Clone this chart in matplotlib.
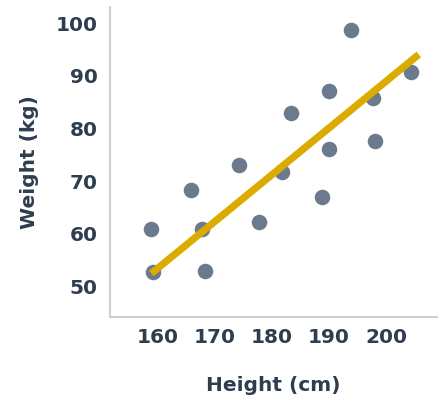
import matplotlib.pyplot as plt

heights = [158.9, 159.1, 165.9, 167.7, 168.2, 174.3, 177.7, 181.8, 183.3,
           188.7, 189.9, 189.9, 193.9, 197.7, 198.0, 204.4]
weights = [60.8, 52.7, 68.3, 60.8, 52.9, 73.1, 62.2, 71.8, 83.0,
           67.0, 87.1, 76.1, 98.7, 85.8, 77.7, 90.8]

fit_x = [158.9, 205.7]
fit_y = [52.4, 94.1]

x_ticks = [160, 170, 180, 190, 200]
y_ticks = [50, 60, 70, 80, 90, 100]

text_color = '#2e3d4f'

if __name__ == '__main__':
    fig = plt.figure(figsize=(4.39, 4.03), dpi=100)
    ax = fig.add_axes([0.2506, 0.2134, 0.745, 0.77])

    ax.scatter(heights, weights, s=125, color='#6b7a8d', zorder=2, linewidths=0)
    ax.plot(fit_x, fit_y, color='#dcab00', linewidth=5.2, solid_capstyle='butt', zorder=3)

    ax.set_xlim(151.65, 208.9)
    ax.set_ylim(44.1, 103.2)
    ax.set_xticks(x_ticks)
    ax.set_yticks(y_ticks)

    for side in ['top', 'right']:
        ax.spines[side].set_visible(False)
    for side in ['left', 'bottom']:
        ax.spines[side].set_color('#cdd1d5')
        ax.spines[side].set_linewidth(1.5)

    ax.tick_params(length=0, labelsize=14.5, labelcolor=text_color)
    ax.tick_params(axis='x', pad=8)
    ax.tick_params(axis='y', pad=9)
    for lbl in ax.get_xticklabels() + ax.get_yticklabels():
        lbl.set_fontweight('bold')

    ax.set_xlabel('Height (cm)', fontsize=14.5, fontweight='bold', color=text_color, labelpad=21)
    ax.set_ylabel('Weight (kg)', fontsize=14.5, fontweight='bold', color=text_color, labelpad=12)

    fig.savefig('out.png', dpi=100)
